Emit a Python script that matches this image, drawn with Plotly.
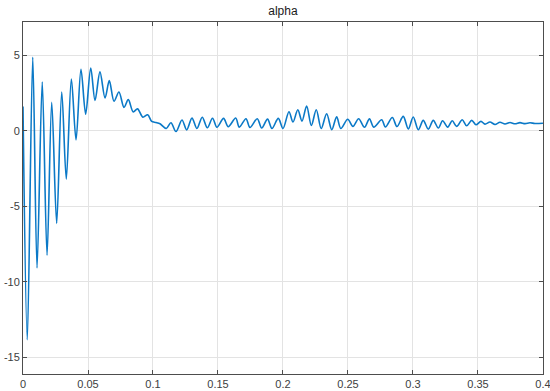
import plotly.graph_objects as go

# Time (s) and alpha values (extrema of the oscillation)
t = [0.0000, 0.0033, 0.0075, 0.0108, 0.0148, 0.0185, 0.0221, 0.0259, 0.0298, 0.0333,
     0.0372, 0.0408, 0.0446, 0.0482, 0.0521, 0.0554, 0.0592, 0.0631, 0.0664, 0.0700,
     0.0738, 0.0777, 0.0810, 0.0848, 0.0881, 0.0922, 0.0959, 0.0990, 0.1023, 0.1054,
     0.1102, 0.1138, 0.1177, 0.1223, 0.1259, 0.1300, 0.1338, 0.1379, 0.1418, 0.1458,
     0.1492, 0.1543, 0.1579, 0.1636, 0.1664, 0.1715, 0.1746, 0.1802, 0.1836, 0.1881,
     0.1915, 0.1964, 0.2000, 0.2046, 0.2077, 0.2114, 0.2146, 0.2182, 0.2218, 0.2256,
     0.2294, 0.2336, 0.2375, 0.2413, 0.2445, 0.2498, 0.2538, 0.2582, 0.2627, 0.2665,
     0.2698, 0.2759, 0.2788, 0.2841, 0.2877, 0.2925, 0.2964, 0.3002, 0.3041, 0.3079,
     0.3118, 0.3156, 0.3195, 0.3228, 0.3267, 0.3302, 0.3336, 0.3379, 0.3413, 0.3452,
     0.3485, 0.3523, 0.3554, 0.3592, 0.3631, 0.3669, 0.3708, 0.3746, 0.3785, 0.3823,
     0.3862, 0.3900, 0.3938, 0.4000]
alpha = [1.60, -13.83, 4.87, -9.08, 3.23, -8.23, 1.88, -6.13, 2.57, -3.20,
         3.43, -0.60, 4.07, 1.10, 4.16, 2.01, 3.90, 2.17, 3.32, 1.95,
         2.57, 1.55, 2.06, 1.25, 1.45, 0.90, 1.06, 0.62, 0.55, 0.46,
         0.15, 0.53, -0.05, 0.71, 0.06, 0.84, 0.15, 0.90, 0.20, 0.83,
         0.23, 0.82, 0.27, 0.84, 0.24, 0.80, 0.22, 0.80, 0.18, 0.77,
         0.15, 0.82, 0.15, 1.26, 0.58, 1.39, 0.64, 1.64, 0.35, 1.39,
         0.15, 1.13, 0.07, 0.92, 0.15, 0.76, 0.29, 0.80, 0.23, 0.79,
         0.24, 0.73, 0.25, 0.88, 0.28, 0.95, 0.12, 0.91, 0.07, 0.69,
         0.11, 0.69, 0.18, 0.66, 0.24, 0.66, 0.29, 0.73, 0.33, 0.69,
         0.40, 0.62, 0.44, 0.58, 0.42, 0.56, 0.45, 0.55, 0.46, 0.54,
         0.47, 0.53, 0.48, 0.50]

x_ticks = [0, 0.05, 0.1, 0.15, 0.2, 0.25, 0.3, 0.35, 0.4]
x_tick_labels = ["0", "0.05", "0.1", "0.15", "0.2", "0.25", "0.3", "0.35", "0.4"]
y_ticks = [-15, -10, -5, 0, 5]
y_tick_labels = ["-15", "-10", "-5", "0", "5"]

fig = go.Figure()
fig.add_trace(go.Scatter(
    x=t, y=alpha, mode="lines",
    line=dict(color="#0b79c7", width=1.6, shape="spline", smoothing=0.9),
    showlegend=False, hoverinfo="skip",
))

axis_common = dict(
    showline=True, linecolor="#4d4d4d", linewidth=1, mirror="ticks",
    ticks="inside", ticklen=4, tickcolor="#4d4d4d",
    showgrid=True, gridcolor="#e3e3e3", gridwidth=1,
    zeroline=False, automargin=False, ticklabeloverflow="allow",
    tickfont=dict(family="Liberation Sans, Arial, sans-serif", size=11, color="#404040"),
)

fig.update_layout(
    width=550, height=391,
    margin=dict(l=23, r=7, t=22, b=17),
    paper_bgcolor="white", plot_bgcolor="white",
    title=dict(text="alpha", x=0.5145, xanchor="center", y=0.972, yanchor="middle",
               font=dict(family="Liberation Sans, Arial, sans-serif", size=12, color="#1a1a1a")),
    xaxis=dict(range=[0, 0.40002], tickvals=x_ticks, ticktext=x_tick_labels, **axis_common),
    yaxis=dict(range=[-16.1, 7.2], tickvals=y_ticks, ticktext=y_tick_labels, **axis_common),
)

fig.write_html(
    "out.html",
    config={"displayModeBar": False},
    post_script="document.body.style.margin='0';document.body.style.overflow='hidden';",
)
